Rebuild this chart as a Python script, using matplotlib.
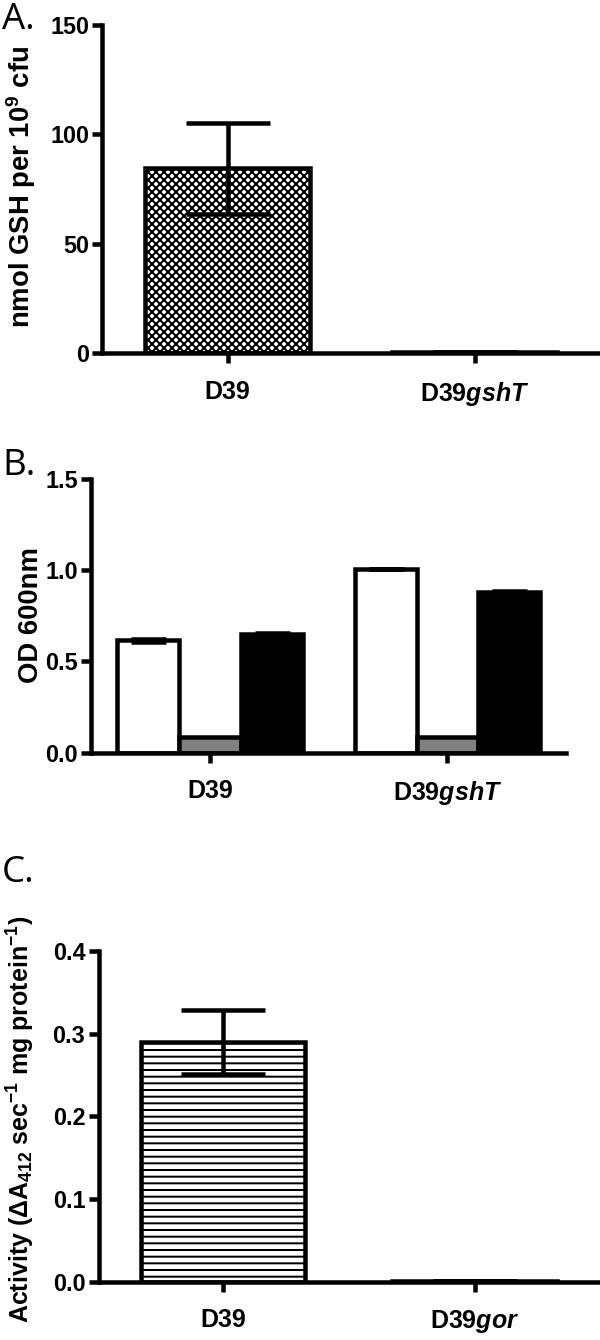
import matplotlib.pyplot as plt
from matplotlib.ticker import FormatStrFormatter

plt.rcParams['font.family'] = ['Liberation Sans', 'DejaVu Sans']
plt.rcParams['font.weight'] = 'bold'
plt.rcParams['mathtext.fontset'] = 'custom'
plt.rcParams['mathtext.default'] = 'regular'
plt.rcParams['mathtext.rm'] = 'Liberation Sans:bold'
plt.rcParams['mathtext.it'] = 'Liberation Sans:italic:bold'
plt.rcParams['mathtext.bf'] = 'Liberation Sans:bold'
plt.rcParams['hatch.linewidth'] = 1.2
plt.rcParams['hatch.color'] = 'black'

# panel A: glutathione content
strains_a = ['D39', r'D39$\it{gshT}$']
gsh = [84.5, 0.5]
gsh_err = [20.6, 0]

# panel B: growth (three conditions per strain)
strains_b = ['D39', r'D39$\it{gshT}$']
od_white = [0.616, 1.009]
od_white_err = [0.008, 0]
od_grey = [0.086, 0.086]
od_black = [0.649, 0.881]
od_black_err = [0.006, 0.006]

# panel C: glutathione reductase activity
strains_c = ['D39', r'D39$\it{gor}$']
activity = [0.29, 0.001]
activity_err = [0.039, 0]

LW = 2.7
TICK_FS = 14
XLAB_FS = 15
YLAB_FS = 16.5

fig = plt.figure(figsize=(5, 1340 / 120), dpi=120)
axA = fig.add_axes([0.1708, 0.7363, 0.8292, 0.245])
axB = fig.add_axes([0.1518, 0.4383, 0.792, 0.2042])
axC = fig.add_axes([0.1645, 0.0435, 0.8355, 0.2468])


def style(ax, xlim, ylim, yticks, fmt):
    ax.spines['top'].set_visible(False)
    ax.spines['right'].set_visible(False)
    ax.spines['left'].set_linewidth(LW)
    ax.spines['bottom'].set_linewidth(LW)
    ax.set_xlim(xlim)
    ax.set_ylim(ylim)
    ax.set_yticks(yticks)
    ax.yaxis.set_major_formatter(FormatStrFormatter(fmt))
    ax.tick_params(axis='y', direction='out', length=6, width=LW, pad=2, labelsize=TICK_FS)
    ax.tick_params(axis='x', direction='out', length=6, width=LW, pad=10, labelsize=XLAB_FS)
    for t in ax.get_yticklabels():
        t.set_fontweight('bold')


# A
xa = [0, 1]
axA.bar(xa, gsh, width=0.666, color='white', edgecolor='black', linewidth=LW,
        hatch='xxxxx', zorder=2)
axA.errorbar(xa, gsh, yerr=gsh_err, fmt='none', ecolor='black', elinewidth=LW,
             capsize=25, capthick=LW, zorder=3)
style(axA, (-0.507, 1.508), (0, 150), [0, 50, 100, 150], '%d')
axA.set_xticks(xa, strains_a)
axA.set_ylabel(r'nmol GSH per 10$^{9}$ cfu', fontsize=YLAB_FS, fontweight='bold')
axA.yaxis.set_label_coords(-0.130, 0.507)

# B
xb = [0, 1]
w = 0.26
axB.bar([x - w for x in xb], od_white, width=w, color='white', edgecolor='black',
        linewidth=LW, zorder=2)
axB.bar(xb, od_grey, width=w, color='#808080', edgecolor='black', linewidth=LW, zorder=2)
axB.bar([x + w for x in xb], od_black, width=w, color='black', edgecolor='black',
        linewidth=LW, zorder=2)
axB.errorbar([x - w for x in xb], od_white, yerr=od_white_err, fmt='none', ecolor='black',
             elinewidth=LW, capsize=10.5, capthick=LW, zorder=3)
axB.errorbar([x + w for x in xb], od_black, yerr=od_black_err, fmt='none', ecolor='black',
             elinewidth=LW, capsize=10.5, capthick=LW, zorder=3)
style(axB, (-0.5, 1.5), (0, 1.5), [0, 0.5, 1.0, 1.5], '%.1f')
axB.set_xticks(xb, strains_b)
axB.set_ylabel('OD 600nm', fontsize=YLAB_FS, fontweight='bold')
axB.yaxis.set_label_coords(-0.100, 0.503)

# C
xc = [0, 1]
axC.bar(xc, activity, width=0.655, color='white', edgecolor='black', linewidth=LW,
        hatch='---', zorder=2)
axC.errorbar(xc, activity, yerr=activity_err, fmt='none', ecolor='black', elinewidth=LW,
             capsize=25, capthick=LW, zorder=3)
style(axC, (-0.495, 1.499), (0, 0.4), [0, 0.1, 0.2, 0.3, 0.4], '%.1f')
axC.set_xticks(xc, strains_c)
axC.set_ylabel(r'Activity ($\Delta$A$_{412}$ sec$^{-1}$ mg protein$^{-1}$)',
               fontsize=15, fontweight='bold')
axC.yaxis.set_label_coords(-0.124, 0.492)

# panel letters
for lab, ytop in [('A.', 2), ('B.', 448), ('C.', 855)]:
    fig.text(2 / 600, 1 - ytop / 1340, lab, fontsize=22, fontweight='normal',
             family=['Open Sans', 'DejaVu Sans'], va='top', ha='left')

fig.savefig('out.png', dpi=120)
